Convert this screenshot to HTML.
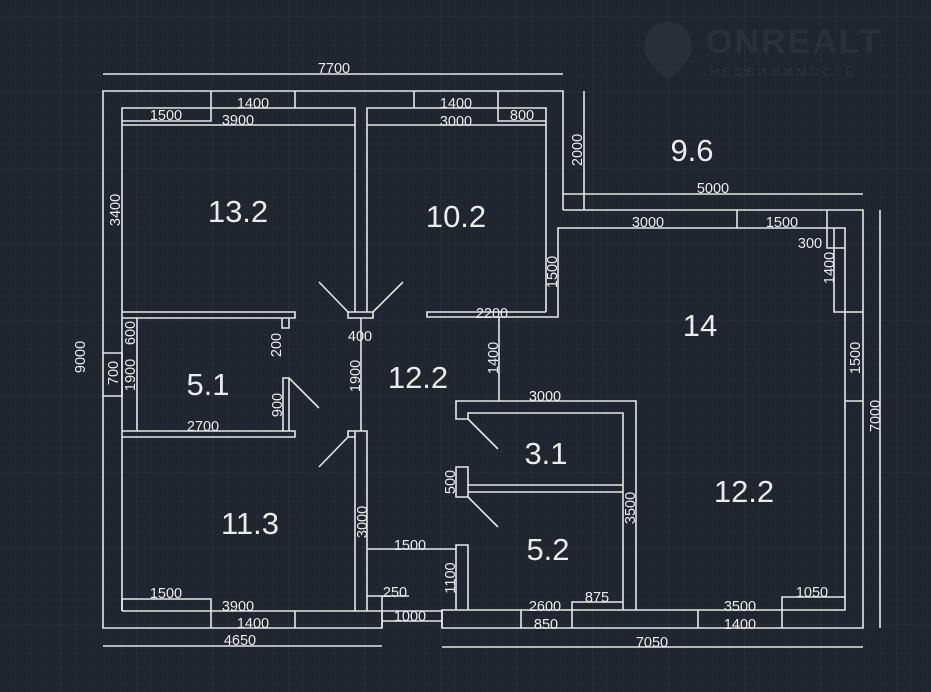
<!DOCTYPE html>
<html><head><meta charset="utf-8"><style>
html,body{margin:0;padding:0;background:#212530;}
svg{display:block;}
text{font-family:"Liberation Sans",sans-serif;fill:#ececec;}
</style></head><body>
<svg width="931" height="692" viewBox="0 0 931 692" xmlns="http://www.w3.org/2000/svg">
<defs>
<pattern id="gm" x="0" y="0" width="15.2" height="15.2" patternUnits="userSpaceOnUse">
<path d="M15.2 0V15.2M0 15.2H15.2" stroke="#262a35" stroke-width="1" fill="none"/>
</pattern>
<pattern id="gM" x="60" y="16" width="76" height="76" patternUnits="userSpaceOnUse">
<path d="M0 0V76M0 0H76" stroke="#2d323d" stroke-width="1" fill="none"/>
</pattern>
</defs>
<rect width="931" height="692" fill="#212530"/>
<rect width="931" height="692" fill="url(#gm)"/>
<rect width="931" height="692" fill="url(#gM)"/>

<!-- watermark -->
<g>
<path d="M668 22 a24 24 0 0 1 24 24 c0 14 -14 26 -24 34 c-10 -8 -24 -20 -24 -34 a24 24 0 0 1 24 -24z" fill="#292e39"/>
<text x="706" y="53" style="font-size:34px;font-weight:bold;fill:#2a2f3a;letter-spacing:2px">ONREALT</text>
<text x="710" y="76" style="font-size:12px;font-weight:bold;fill:#2a2f3a;letter-spacing:3.5px">НЕДВИЖИМОСТЬ</text>
</g>

<g stroke="#e6e6e6" stroke-width="1.6" fill="none">
<path d="M103 74H563"/>
<path d="M103 646H382"/>
<path d="M442 647H863"/>
<path d="M880 210V628"/>
<path d="M563 194H863"/>
<path d="M584 91V210"/>
<path d="M563 210V91H103V628H382V610"/>
<path d="M122 611V108H355V312"/>
<path d="M367 312V108H546V312"/>
<path d="M122 125H355M367 125H546"/>
<path d="M122 121H211V91M211 108V91M295 91V108"/>
<path d="M414 91V108M498 91V121H546"/>
<path d="M563 210H863V628H442V610H845V228H558V317H427V312H546"/>
<path d="M737 210V228"/>
<path d="M827 210V248H845"/>
<path d="M834 228V312H863"/>
<path d="M845 401H863"/>
<path d="M521 610V628M572 628V602H623M698 610V628M782 628V597H845"/>
<path d="M636 610V401H456V419H468V413H623V610"/>
<path d="M468 485H623M468 492H623"/>
<path d="M456 467H468V497H456Z"/>
<path d="M456 610V545H468V610"/>
<path d="M468 419L498 449M468 497L498 527"/>
<path d="M499 317V401"/>
<path d="M348 312H373V318H348Z"/>
<path d="M348 312L319 282M373 312L403 282"/>
<path d="M361 318V431"/>
<path d="M355 611V431H367V611M348 431H355V437H348Z"/>
<path d="M348 437L319 467"/>
<path d="M367 549H456"/>
<path d="M367 596H409M382 596V628M382 621H442M442 610V628"/>
<path d="M122 611H442"/>
<path d="M122 611V599H211V628M295 611V628"/>
<path d="M122 312H295V318H122M137 318V431"/>
<path d="M282 318V328H289V318"/>
<path d="M122 431H295V437H122"/>
<path d="M283 431V378H289V431M289 378L319 408"/>
<path d="M103 353H122V396H103"/>
</g>

<g style="font-size:14.5px" text-anchor="middle">
<text x="334" y="73">7700</text>
<text x="253" y="108">1400</text>
<text x="166" y="120">1500</text>
<text x="238" y="125">3900</text>
<text x="456" y="108">1400</text>
<text x="456" y="126">3000</text>
<text x="522" y="120">800</text>
<text x="713" y="193">5000</text>
<text x="648" y="227">3000</text>
<text x="782" y="227">1500</text>
<text x="810" y="248">300</text>
<text x="492" y="318">2200</text>
<text x="360" y="341">400</text>
<text x="203" y="431">2700</text>
<text x="545" y="401">3000</text>
<text x="410" y="550">1500</text>
<text x="395" y="597">250</text>
<text x="166" y="598">1500</text>
<text x="238" y="611">3900</text>
<text x="597" y="602">875</text>
<text x="545" y="611">2600</text>
<text x="740" y="611">3500</text>
<text x="812" y="597">1050</text>
<text x="410" y="621">1000</text>
<text x="253" y="628">1400</text>
<text x="546" y="629">850</text>
<text x="740" y="629">1400</text>
<text x="240" y="645">4650</text>
<text x="652" y="647">7050</text>

<text transform="translate(120,210) rotate(-90)">3400</text>
<text transform="translate(582,150) rotate(-90)">2000</text>
<text transform="translate(834,268) rotate(-90)">1400</text>
<text transform="translate(557,272) rotate(-90)">1500</text>
<text transform="translate(281,345) rotate(-90)">200</text>
<text transform="translate(135,333) rotate(-90)">600</text>
<text transform="translate(135,375) rotate(-90)">1900</text>
<text transform="translate(118,373) rotate(-90)">700</text>
<text transform="translate(85,357) rotate(-90)">9000</text>
<text transform="translate(360,376) rotate(-90)">1900</text>
<text transform="translate(498,358) rotate(-90)">1400</text>
<text transform="translate(282,405) rotate(-90)">900</text>
<text transform="translate(860,358) rotate(-90)">1500</text>
<text transform="translate(880,416) rotate(-90)">7000</text>
<text transform="translate(455,482) rotate(-90)">500</text>
<text transform="translate(635,508) rotate(-90)">3500</text>
<text transform="translate(367,522) rotate(-90)">3000</text>
<text transform="translate(455,578) rotate(-90)">1100</text>
</g>

<g style="font-size:31px" text-anchor="middle">
<text x="238" y="222">13.2</text>
<text x="456" y="227">10.2</text>
<text x="692" y="161">9.6</text>
<text x="700" y="336">14</text>
<text x="418" y="388">12.2</text>
<text x="208" y="395">5.1</text>
<text x="546" y="464">3.1</text>
<text x="744" y="502">12.2</text>
<text x="250" y="534">11.3</text>
<text x="548" y="560">5.2</text>
</g>
</svg>
</body></html>
